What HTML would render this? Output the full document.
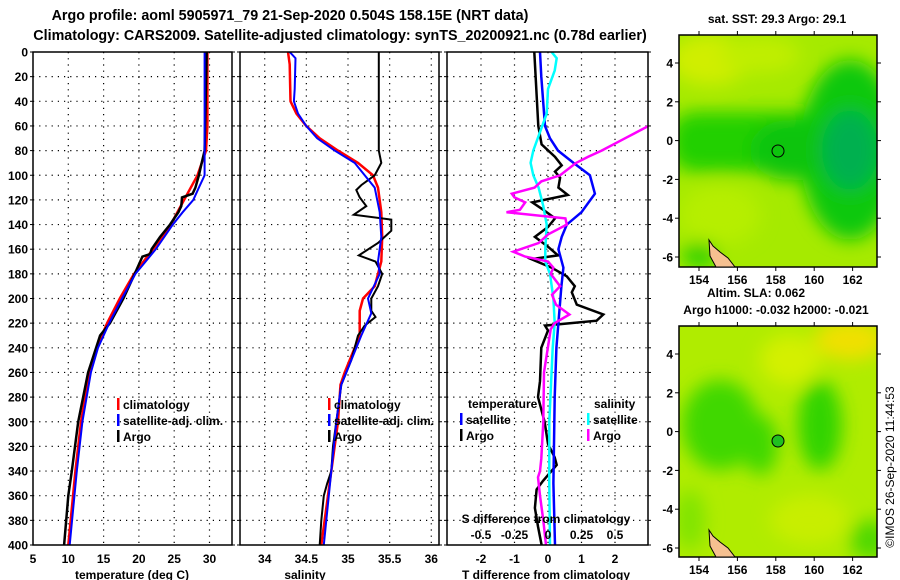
<!DOCTYPE html>
<html><head><meta charset="utf-8">
<style>
html,body{margin:0;padding:0;background:#fff;}
svg{display:block;font-family:"Liberation Sans",Arial,sans-serif;font-weight:bold;}
</style></head>
<body>
<svg id="fig" width="900" height="580" viewBox="0 0 900 580" xmlns="http://www.w3.org/2000/svg">
<defs>
<filter id="blur8" x="-50%" y="-50%" width="200%" height="200%"><feGaussianBlur stdDeviation="9"/></filter>
<clipPath id="cp1"><rect x="33" y="52" width="199" height="493"/></clipPath>
<clipPath id="cp2"><rect x="240" y="52" width="199" height="493"/></clipPath>
<clipPath id="cp3"><rect x="447" y="52" width="201" height="493"/></clipPath>
<clipPath id="cm1"><rect x="679" y="35" width="198" height="232"/></clipPath>
<clipPath id="cm2"><rect x="679" y="326" width="198" height="231"/></clipPath>
</defs>
<text x="290" y="20" font-size="14.3" text-anchor="middle">Argo profile: aoml 5905971_79 21-Sep-2020 0.504S 158.15E (NRT data)</text>
<text x="340" y="40" font-size="14.3" text-anchor="middle">Climatology: CARS2009. Satellite-adjusted climatology: synTS_20200921.nc (0.78d earlier)</text>

<g>
<g clip-path="url(#cm1)">
<rect x="679" y="35" width="198" height="232" fill="#a6ea00"/>
<g filter="url(#blur8)">
<ellipse cx="710" cy="60" rx="40" ry="25" fill="#d0ee00"/>
<ellipse cx="760" cy="55" rx="40" ry="18" fill="#c0ee00"/>
<ellipse cx="720" cy="215" rx="40" ry="30" fill="#b6ee00"/>
<rect x="670" y="112" width="160" height="60" rx="25" fill="#20d000"/>
<ellipse cx="850" cy="150" rx="50" ry="90" fill="#10c810"/>
<ellipse cx="790" cy="150" rx="40" ry="30" fill="#10c410"/>
<ellipse cx="850" cy="150" rx="28" ry="40" fill="#00b050"/>
<ellipse cx="700" cy="255" rx="18" ry="12" fill="#20d000"/>
</g>
</g>
<rect x="679" y="35" width="198" height="232" fill="none" stroke="#000" stroke-width="1.5"/>
<path d="M709 240 L713 246 L720 252 L728 258 L735 267 L716 267 L710 256 Z" fill="#f5c090" stroke="#000" stroke-width="1"/>
<circle cx="778" cy="151" r="6" fill="none" stroke="#000" stroke-width="1"/>
</g>
<g>
<g clip-path="url(#cm2)">
<rect x="679" y="326" width="198" height="231" fill="#b0ec00"/>
<g filter="url(#blur8)">
<ellipse cx="850" cy="340" rx="35" ry="20" fill="#f0e000"/>
<ellipse cx="790" cy="360" rx="30" ry="25" fill="#d4f000"/>
<ellipse cx="720" cy="425" rx="38" ry="45" fill="#40d800"/>
<ellipse cx="760" cy="445" rx="18" ry="30" fill="#40d800"/>
<ellipse cx="820" cy="425" rx="22" ry="45" fill="#30d400"/>
<ellipse cx="870" cy="540" rx="20" ry="20" fill="#50d800"/>
<ellipse cx="810" cy="520" rx="40" ry="25" fill="#c8ee00"/>
<ellipse cx="690" cy="520" rx="15" ry="30" fill="#80e400"/>
</g>
</g>
<rect x="679" y="326" width="198" height="231" fill="none" stroke="#000" stroke-width="1.5"/>
<path d="M709 530 L713 536 L720 542 L728 548 L735 557 L716 557 L710 546 Z" fill="#f5c090" stroke="#000" stroke-width="1"/>
<circle cx="778" cy="441" r="6" fill="#20c020" stroke="#000" stroke-width="1"/>
</g>
<text x="777" y="23" font-size="12" text-anchor="middle">sat. SST: 29.3 Argo: 29.1</text>
<text x="756" y="297" font-size="12" text-anchor="middle">Altim. SLA: 0.062</text>
<text x="776" y="314" font-size="12" text-anchor="middle">Argo h1000: -0.032 h2000: -0.021</text>
<text transform="translate(894,467) rotate(-90)" font-size="12" font-weight="normal" text-anchor="middle">©IMOS 26-Sep-2020 11:44:53</text>
<g id="dyn"></g>
</svg>
<script>
const depthTicks = [0,20,40,60,80,100,120,140,160,180,200,220,240,260,280,300,320,340,360,380,400];
const tTicks = [5,10,15,20,25,30];
const sTicks = [34,34.5,35,35.5,36];
const dTicks = [-2,-1,0,1,2];
const dsTicks = [-0.5,-0.25,0,0.25,0.5];
const lonTicks = [154,156,158,160,162];
const latTicks = [4,2,0,-2,-4,-6];

const tClimDepth = [0,60,80,100,120,140,160,180,200,220,240,260,300,340,400];
const tClimVal   = [29.7,29.7,29.5,28.3,26.4,24.5,22,19.3,17.3,15.5,14,13,11.8,11,10];
const tSatDepth = [0,100,110,120,130,140,160,180,200,220,240,260,300,340,400];
const tSatVal   = [29.3,29.3,28.5,27.7,26.2,24.8,22.4,19.5,17.6,15.8,14.2,13.2,12,11.2,10.2];
const tArgoDepth = [0,80,90,100,110,115,118,125,130,140,150,160,164,166,180,200,220,230,260,300,340,360,380,400];
const tArgoVal   = [29.6,29.3,28.9,28.5,28,27.6,26.1,26,25.6,24.4,23,21.8,21.6,20.5,19.4,17.8,15.9,14.5,12.8,11.4,10.5,10,9.7,9.4];

const sClimDepth = [0,10,40,50,60,70,80,90,100,110,130,150,170,180,190,200,210,230,240,250,260,270,300,340,370,400];
const sClimVal   = [34.28,34.3,34.31,34.38,34.5,34.66,34.88,35.12,35.3,35.36,35.4,35.41,35.4,35.36,35.32,35.18,35.14,35.14,35.08,35.02,34.96,34.91,34.88,34.8,34.74,34.68];
const sSatDepth = [0,5,30,40,50,60,70,80,90,100,110,130,150,170,180,200,212,230,250,270,300,340,400];
const sSatVal   = [34.3,34.37,34.36,34.35,34.4,34.5,34.63,34.84,35.08,35.2,35.32,35.38,35.4,35.36,35.38,35.24,35.28,35.16,35.04,34.92,34.86,34.8,34.71];
const sArgoDepth = [0,80,90,100,108,112,118,125,132,136,145,155,165,170,180,190,200,210,215,222,230,250,270,300,320,340,350,360,380,400];
const sArgoVal   = [35.37,35.37,35.4,35.32,35.16,35.1,35.14,35.22,35.07,35.52,35.52,35.36,35.13,35.33,35.41,35.36,35.28,35.28,35.33,35.2,35.12,35.04,34.92,34.86,34.82,34.8,34.75,34.71,34.68,34.66];

const dTArgoDepth = [0,60,75,85,92,97,102,110,116,122,128,135,142,150,158,165,168,175,182,190,195,205,213,218,222,226,240,267,280,300,318,329,335,348,355,370,385,400];
const dTArgoVal   = [-0.41,-0.29,-0.19,0.21,0.41,0.21,0.36,0.31,0.59,-0.47,-0.14,0.21,0,-0.39,0,0.3,-0.5,0.11,0.56,0.8,0.71,0.86,1.65,1.45,-0.09,0,-0.2,-0.24,-0.3,-0.1,0,0.2,0.26,-0.15,-0.34,-0.39,-0.3,-0.19];
const dTSatDepth = [0,20,60,70,80,90,100,115,130,140,150,160,175,190,220,240,280,350,400];
const dTSatVal   = [-0.24,-0.2,-0.09,0.06,0.3,0.76,1.25,1.4,1.0,0.56,0.41,0.31,0.46,0.4,0.31,0.25,0.2,0.16,0.21];
const dSSatDepth = [0,5,15,30,50,65,80,90,100,110,125,140,160,170,180,200,220,240,300,350,400];
const dSSatVal   = [0.027,0.065,0.05,0,-0.01,-0.06,-0.11,-0.13,-0.11,-0.07,-0.035,-0.01,-0.02,-0.02,0.015,0.04,0.05,0.035,0.01,0.01,0.015];
const dSArgoDepth = [45,60,70,80,85,90,100,105,110,115,118,122,128,130,135,140,148,155,162,166,170,175,180,190,197,205,213,220,225,260,300,330,340,345,360,380,400];
const dSArgoVal   = [0.95,0.75,0.575,0.4,0.3,0.21,0.09,-0.05,-0.1,-0.27,-0.25,-0.17,-0.21,-0.31,0.13,0.14,0,-0.07,-0.26,-0.17,0,0.04,0.02,0.09,0.03,0.06,0.16,0.05,0.02,-0.03,-0.035,-0.05,-0.06,-0.075,-0.06,-0.035,-0.015];

const Y0 = 52, Y1 = 545;
const y = d => Y0 + d * (Y1 - Y0) / 400;
const xT = v => 33 + (v - 5) * 7.06;
const xS = v => 264.7 + (v - 34) * 83.3;
const xD = v => 548 + v * 33.5;
const xDS = v => 548 + v * 134;
const lonX = v => 699 + (v - 154) * 19.2;
const latY1 = v => 140.6 - v * 19.4;
const latY2 = v => 431.6 - v * 19.4;

const NS = 'http://www.w3.org/2000/svg';
const root = document.getElementById('dyn');
function el(tag, attrs, parent) {
  const e = document.createElementNS(NS, tag);
  for (const k in attrs) e.setAttribute(k, attrs[k]);
  (parent || root).appendChild(e);
  return e;
}
function txt(s, attrs, parent) { const e = el('text', attrs, parent); e.textContent = s; return e; }

const panels = [
  {x0:33, x1:232, xs:xT, ticks:tTicks.slice(1), labels:tTicks, title:'temperature (deg C)', tx:132, name:'temperature'},
  {x0:240, x1:439, xs:xS, ticks:sTicks, labels:sTicks, title:'salinity', tx:305, name:'salinity'},
  {x0:447, x1:648, xs:xD, ticks:dTicks, labels:dTicks, title:'T difference from climatology', tx:546, name:'difference'}
];

panels.forEach(p => {
  const g = el('g', {});
  
  
  p.ticks.forEach(v => {
    const l = el('line', {x1:p.xs(v), x2:p.xs(v), y1:Y0, y2:Y1, stroke:'#000', 'stroke-width':1.2, 'stroke-dasharray':'1.2 5'}, g);
    
    
  });
  depthTicks.slice(1, -1).forEach(d => {
    const l = el('line', {x1:p.x0, x2:p.x1, y1:y(d), y2:y(d), stroke:'#000', 'stroke-width':1.2, 'stroke-dasharray':'1.2 5'}, g);
    
    
  });
  depthTicks.forEach(d => {
    el('line', {x1:p.x0-3, x2:p.x0, y1:y(d), y2:y(d), stroke:'#000', 'stroke-width':1}, g);
    el('line', {x1:p.x1, x2:p.x1+3, y1:y(d), y2:y(d), stroke:'#000', 'stroke-width':1}, g);
  });
  p.labels.forEach(v => {
    const t = txt(String(v), {x:p.xs(v), y:563, 'font-size':12, 'text-anchor':'middle'}, g);
    
    
  });
  const at = txt(p.title, {x:p.tx, y:579, 'font-size':12, 'text-anchor':'middle'}, g);
  
  
});

depthTicks.forEach(d => {
  const t = txt(String(d), {x:28, y:y(d)+4.5, 'font-size':12, 'text-anchor':'end'});
  
  
});

function series(depths, vals, xs, color, clip, name, w) {
  const pts = depths.map((d, i) => xs(vals[i]).toFixed(1) + ',' + y(d).toFixed(1)).join(' ');
  const pl = el('polyline', {points:pts, fill:'none', stroke:color, 'stroke-width':w || 2, 'clip-path':'url(#' + clip + ')'});
  
  
}
series(tClimDepth, tClimVal, xT, '#ff0000', 'cp1', 'temp-climatology-line', 2.5);
series(tArgoDepth, tArgoVal, xT, '#000000', 'cp1', 'temp-argo-line', 2.5);
series(tSatDepth, tSatVal, xT, '#0000ff', 'cp1', 'temp-satellite-line', 2);
series(sClimDepth, sClimVal, xS, '#ff0000', 'cp2', 'sal-climatology-line', 2.5);
series(sArgoDepth, sArgoVal, xS, '#000000', 'cp2', 'sal-argo-line', 2);
series(sSatDepth, sSatVal, xS, '#0000ff', 'cp2', 'sal-satellite-line', 2);
series(dTArgoDepth, dTArgoVal, xD, '#000000', 'cp3', 'tdiff-argo-line', 2.5);
series(dTSatDepth, dTSatVal, xD, '#0000ff', 'cp3', 'tdiff-satellite-line', 2.5);
series(dSSatDepth, dSSatVal, xDS, '#00ffff', 'cp3', 'sdiff-satellite-line', 2.5);
series(dSArgoDepth, dSArgoVal, xDS, '#ff00ff', 'cp3', 'sdiff-argo-line', 2.5);

panels.forEach(p => {
  const r = el('rect', {x:p.x0, y:Y0, width:p.x1-p.x0, height:Y1-Y0, fill:'none', stroke:'#000', 'stroke-width':1.5});
  
  
});

function legend(x, yy, color, label) {
  const g = el('g', {});
  
  
  el('rect', {x:x, y:yy-11, width:2.5, height:12, fill:color}, g);
  txt(label, {x:x+6, y:yy, 'font-size':12}, g);
}
legend(117, 409, '#ff0000', 'climatology');
legend(117, 425, '#0000ff', 'satellite-adj. clim.');
legend(117, 441, '#000000', 'Argo');
legend(328, 409, '#ff0000', 'climatology');
legend(328, 425, '#0000ff', 'satellite-adj. clim.');
legend(328, 441, '#000000', 'Argo');
const lt = txt('temperature', {x:468, y:408, 'font-size':12});


legend(460, 424, '#0000ff', 'satellite');
legend(460, 440, '#000000', 'Argo');
const ls = txt('salinity', {x:594, y:408, 'font-size':12});


legend(587, 424, '#00ffff', 'satellite');
legend(587, 440, '#ff00ff', 'Argo');

const st = txt('S difference from climatology', {x:546, y:523, 'font-size':12, 'text-anchor':'middle'});


dsTicks.forEach(v => {
  const t = txt(String(v), {x:xDS(v), y:539, 'font-size':12, 'text-anchor':'middle'});
  
  
});

function mapAxes(latY, top, bottom) {
  lonTicks.forEach(v => {
    el('line', {x1:lonX(v), x2:lonX(v), y1:top-4, y2:top, stroke:'#000'});
    el('line', {x1:lonX(v), x2:lonX(v), y1:bottom, y2:bottom+4, stroke:'#000'});
    const t = txt(String(v), {x:lonX(v), y:bottom+17, 'font-size':12, 'text-anchor':'middle'});
    
    
  });
  latTicks.forEach(v => {
    el('line', {x1:675, x2:679, y1:latY(v), y2:latY(v), stroke:'#000'});
    el('line', {x1:877, x2:881, y1:latY(v), y2:latY(v), stroke:'#000'});
    const t = txt(String(v), {x:673, y:latY(v)+4.5, 'font-size':12, 'text-anchor':'end'});
    
    
  });
}
mapAxes(latY1, 35, 267);
mapAxes(latY2, 326, 557);
</script>
</body></html>
